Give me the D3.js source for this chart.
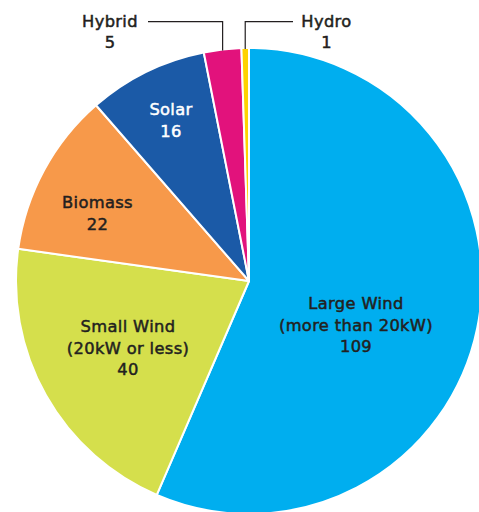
<!DOCTYPE html>
<html><head><meta charset="utf-8">
<script src="https://cdn.jsdelivr.net/npm/d3@7"></script>
<style>body{margin:0;background:#fff}svg{display:block}</style>
</head><body><svg id="c" width="479" height="512"></svg>
<script>
const categories = ["Large Wind", "Small Wind", "Biomass", "Solar", "Hybrid", "Hydro"];
const values = [109, 40, 22, 16, 5, 1];
const labelLines = [["Large Wind", "(more than 20kW)", "109"], ["Small Wind", "(20kW or less)", "40"], ["Biomass", "22"], ["Solar", "16"], ["Hybrid", "5"], ["Hydro", "1"]];
const colors = ["#00AEEF", "#D5DF4C", "#F7994A", "#1B5AA7", "#E2127C", "#FFD200"];

const svg = d3.select("#c");
const cx = 249, cy = 281, r = 233;
const g = svg.append("g").attr("transform", `translate(${cx},${cy})`);
const pie = d3.pie().sort(null).value(d => d)(values);
const arc = d3.arc().innerRadius(0).outerRadius(r);
g.selectAll("path").data(pie).join("path")
  .attr("d", arc).attr("fill", (d, i) => colors[i])
  .attr("stroke", "#fff").attr("stroke-width", 2).attr("stroke-linejoin", "round");

const labelPos = [[107, 28], [-121, 51], [-151.5, -73], [-78, -166], [-139, -254.3], [77.5, -254.3]];
const textColors = ["#231F20", "#231F20", "#231F20", "#fff", "#231F20", "#231F20"];
const lh = 21.7;
labelLines.forEach((lines, i) => {
  const t = g.append("text").attr("text-anchor", "middle")
    .attr("font-family", "'DejaVu Sans', sans-serif").attr("font-weight", "normal")
    .attr("font-size", 16.3).attr("letter-spacing", 0.35)
    .attr("fill", textColors[i]).attr("stroke", textColors[i]).attr("stroke-width", 0.5);
  lines.forEach((s, j) => {
    t.append("tspan").attr("x", labelPos[i][0]).attr("y", labelPos[i][1] + j * lh).text(s);
  });
});

const lineG = svg.append("g").attr("fill", "none").attr("stroke", "#231F20").attr("stroke-width", 1.2);
const hyb = pie[4], hyd = pie[5];
const angPt = (a, rr) => [cx + rr * Math.sin(a), cy - rr * Math.cos(a)];
const hp = angPt((hyb.startAngle + hyb.endAngle) / 2, r - 1);
lineG.append("path").attr("d", `M148,21.7H${hp[0]}V${hp[1]}`);
const dp = angPt((hyd.startAngle + hyd.endAngle) / 2, r - 1);
lineG.append("path").attr("d", `M${dp[0]},${dp[1]}V21.7H293`);
</script></body></html>
